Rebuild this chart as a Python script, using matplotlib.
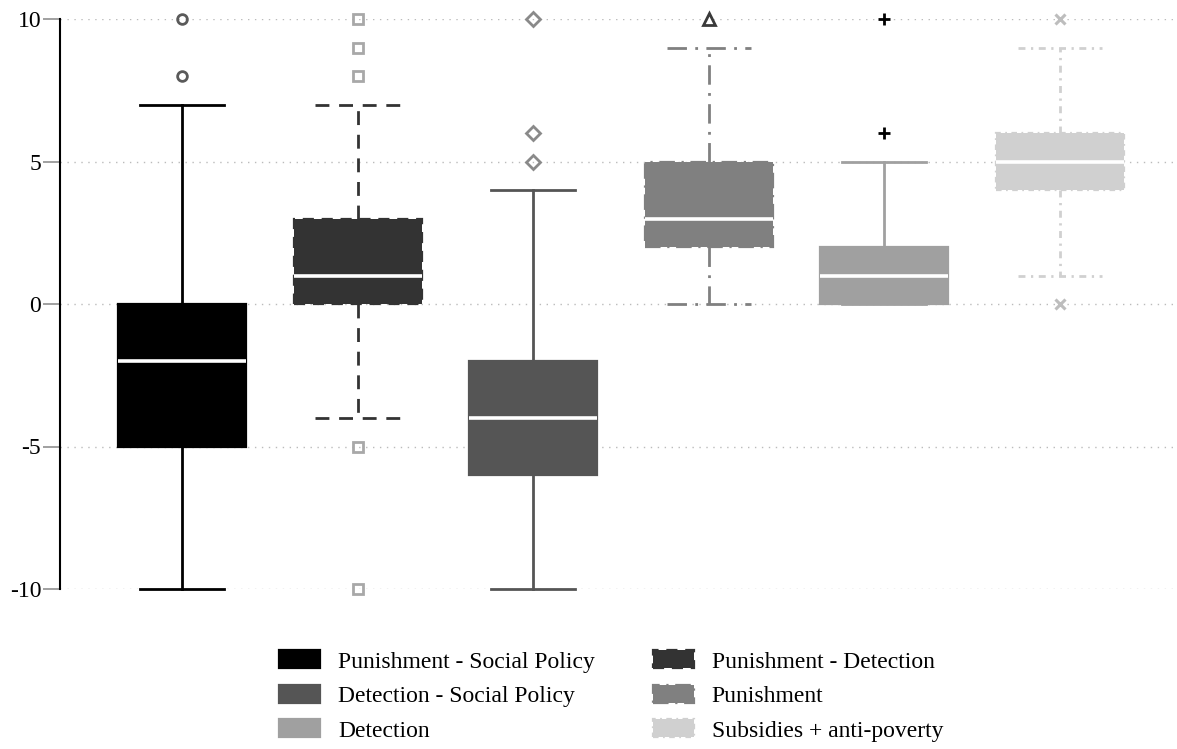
import matplotlib
matplotlib.use("Agg")
import matplotlib.pyplot as plt
from matplotlib.patches import Patch

plt.rcParams['font.family'] = ['Liberation Serif', 'DejaVu Serif']

labels = ["Punishment - Social Policy", "Punishment - Detection", "Detection - Social Policy",
          "Punishment", "Detection", "Subsidies + anti-poverty"]
q1 = [-5, 0, -6, 2, 0, 4]
med = [-2, 1, -4, 3, 1, 5]
q3 = [0, 3, -2, 5, 2, 6]
wlo = [-10, -4, -10, 0, 0, 1]
whi = [7, 7, 4, 9, 5, 9]
fliers = [[8, 10], [8, 9, 10, -5, -10], [5, 6, 10], [10], [6, 10], [0, 10]]

fills = ["#000000", "#333333", "#555555", "#808080", "#a0a0a0", "#d0d0d0"]
lstyles = ["-", (0, (5, 3.5)), "-", (0, (7, 3, 1, 3)), "-", (0, (2.5, 2, 0.8, 2))]
markers = ["o", "s", "D", "^", "P", "X"]
mcols = ["#5a5a5a", "#a8a8a8", "#8a8a8a", "#3a3a3a", "#000000", "#bdbdbd"]
mfill = ["none", "none", "none", "none", "#000000", "#bdbdbd"]
msize = [7, 7, 7, 8, 7, 6]

fig = plt.figure(figsize=(11.77, 7.49), dpi=100)
ax = fig.add_axes([60/1177, 1-589/749, 1-60/1177, (589-19)/749])

for i in range(6):
    st = dict(med=med[i], q1=q1[i], q3=q3[i], whislo=wlo[i], whishi=whi[i], fliers=fliers[i])
    c = fills[i]
    ls = lstyles[i]
    ax.bxp([st], positions=[i + 1], widths=0.73, patch_artist=True, showfliers=True,
           boxprops=dict(facecolor=c, edgecolor=c, linestyle=ls, linewidth=1.6),
           medianprops=dict(color="white", linewidth=2.6),
           whiskerprops=dict(color=c, linestyle=ls, linewidth=2),
           capprops=dict(color=c, linestyle=ls, linewidth=2),
           capwidths=0.48,
           flierprops=dict(marker=markers[i], markeredgecolor=mcols[i], markerfacecolor=mfill[i],
                           markersize=msize[i], markeredgewidth=2 if mfill[i] == "none" else 0.5,
                           linestyle="none"))

for ln in ax.lines:
    ln.set_clip_on(False)
    if ln.get_marker() == "P":
        ln.set_marker("+"); ln.set_markersize(9); ln.set_markeredgewidth(2)
    if ln.get_marker() == "X":
        ln.set_marker("x"); ln.set_markersize(7); ln.set_markeredgewidth(2.2)
for p in ax.patches:
    p.set_clip_on(False)

ax.set_xlim(0.305, 6.667)
ax.set_ylim(-10, 10)
ax.set_yticks([-10, -5, 0, 5, 10])
ax.set_yticklabels(["-10", "-5", "0", "5", "10"], fontsize=17)
ax.set_xticks([])
ax.yaxis.grid(True, linestyle=(0, (1, 4)), color="#bbbbbb", linewidth=1)
ax.set_axisbelow(True)
for s in ["top", "right", "bottom"]:
    ax.spines[s].set_visible(False)
ax.spines["left"].set_linewidth(1.5)
ax.tick_params(axis="y", length=12, width=1.3, color="#999999", pad=1.5)

order = [0, 2, 4, 1, 3, 5]
handles = [Patch(facecolor=fills[i], edgecolor=fills[i], linestyle=lstyles[i], linewidth=1.6,
                 label=labels[i]) for i in order]
fig.legend(handles=handles, loc="center", bbox_to_anchor=(611/1177, 1 - 696/749), ncol=2,
           frameon=False, fontsize=17, handlelength=1.75, handleheight=0.8,
           columnspacing=2.45, labelspacing=0.52, handletextpad=0.75)

fig.savefig("out.png", dpi=100)
